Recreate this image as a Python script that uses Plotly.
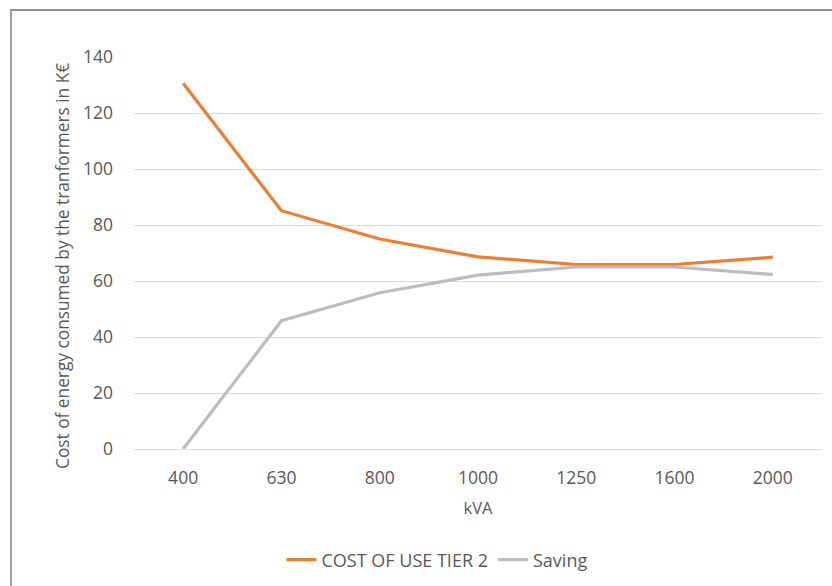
import plotly.graph_objects as go

# Transformer ratings and energy cost figures (K€)
kva = ["400", "630", "800", "1000", "1250", "1600", "2000"]
cost_tier2 = [130.6, 85.1, 75.0, 68.6, 65.9, 65.9, 68.5]
saving = [0.0, 45.8, 55.8, 62.1, 65.0, 65.0, 62.3]

y_ticks = [0, 20, 40, 60, 80, 100, 120, 140]

FONT = "Open Sans"
TEXT_GREY = "#595959"

fig = go.Figure()
fig.add_trace(go.Scatter(
    x=kva, y=cost_tier2, mode="lines", name="COST OF USE TIER 2",
    line=dict(color="#ED7D31", width=3.2),
))
fig.add_trace(go.Scatter(
    x=kva, y=saving, mode="lines", name="Saving",
    line=dict(color="#BDBDBD", width=3.2),
))

W, H = 832, 586
left, right, top, bottom = 134, 10, 57, 137
plot_w = W - left - right
plot_h = H - top - bottom


def px_x(px):
    return (px - left) / plot_w


def px_y(py):
    return (H - bottom - py) / plot_h


fig.update_layout(
    width=W, height=H,
    margin=dict(l=left, r=right, t=top, b=bottom, autoexpand=False),
    paper_bgcolor="white", plot_bgcolor="white",
    font=dict(family=FONT, color=TEXT_GREY, size=17),
    showlegend=True,
    legend=dict(
        orientation="h", xref="container", yref="container",
        x=437 / W, xanchor="center", y=1 - 560 / H, yanchor="middle",
        font=dict(size=18, color=TEXT_GREY),
        traceorder="normal",
    ),
    xaxis=dict(
        type="category", range=[-0.5, 6.5], showgrid=False, zeroline=False,
        showline=True, linecolor="#D9D9D9", linewidth=1,
        ticks="", ticklabelstandoff=13, tickfont=dict(size=17.5, color=TEXT_GREY),
        title=dict(text="kVA", font=dict(size=16.5, color=TEXT_GREY), standoff=14),
    ),
    yaxis=dict(
        range=[0, 140], tickvals=y_ticks, showgrid=True,
        gridcolor="#D9D9D9", gridwidth=1, zeroline=False, showline=False,
        ticks="", ticklabelstandoff=20,
        tickfont=dict(size=17.5, color=TEXT_GREY),
    ),
    annotations=[dict(
        text="Cost of energy consumed by the tranformers in K€",
        xref="paper", yref="paper", x=px_x(62), y=px_y(266),
        xanchor="center", yanchor="middle", textangle=-90, showarrow=False,
        font=dict(size=17.3, color=TEXT_GREY),
    )],
    shapes=[dict(
        type="rect", xref="paper", yref="paper",
        x0=px_x(11), x1=1.2,
        y0=-0.6, y1=px_y(10),
        line=dict(color="#6E6E6E", width=1.3), layer="below",
    )],
)

fig.write_html("out.html")
